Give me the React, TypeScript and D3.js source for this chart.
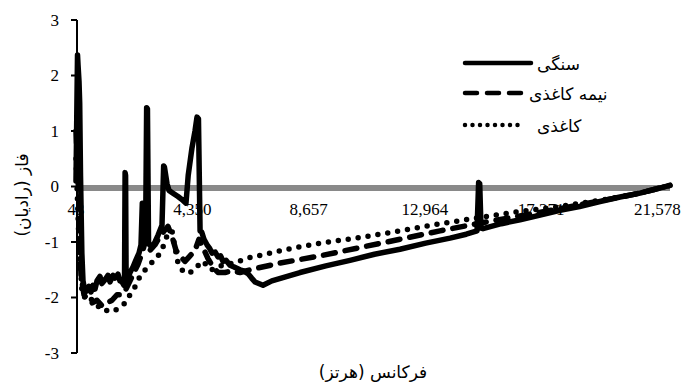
import React from 'react';
import * as d3 from 'd3';

// frequency (Hz) and phase (rad)
const stoneHz = [43, 70, 99, 117, 154, 180, 210, 260, 302, 376, 451, 520, 600, 673, 747, 821, 932, 1000, 1117, 1229, 1303, 1414, 1488, 1599, 1673, 1747, 1821, 1840, 1862, 1880, 1900, 1933, 2044, 2155, 2266, 2377, 2451, 2500, 2544, 2580, 2620, 2660, 2690, 2730, 2766, 2859, 2970, 3081, 3229, 3290, 3320, 3415, 3489, 3637, 3822, 4007, 4118, 4200, 4341, 4452, 4526, 4580, 4640, 4700, 4785, 4897, 5000, 5082, 5200, 5304, 5400, 5489, 5600, 5749, 5900, 6119, 6250, 6416, 6550, 6675, 6971, 7300, 8342, 9300, 10195, 11100, 12047, 13000, 13900, 14500, 14900, 14960, 15000, 15048, 15122, 15800, 16493, 17200, 17975, 18700, 19457, 20200, 20939, 22050];
const stonePhase = [0.1, 1.2, 2.37, 2.2, 1.9, 1.5, 0.2, -1.2, -1.7, -1.9, -1.88, -1.8, -1.9, -1.78, -1.85, -1.7, -1.62, -1.75, -1.68, -1.6, -1.72, -1.6, -1.65, -1.58, -1.7, -1.72, -1.78, -1.75, 0.25, 0.2, -1.72, -1.7, -1.55, -1.45, -1.32, -1.2, -1.05, -0.3, -0.32, -0.95, -1.0, 1.42, 1.4, -1.0, -1.05, -1.1, -1.0, -0.88, -0.7, 0.37, 0.35, 0.05, -0.07, -0.12, -0.18, -0.25, -0.3, 0.2, 0.7, 1.0, 1.25, 1.22, -0.8, -0.82, -0.95, -1.05, -1.12, -1.2, -1.18, -1.27, -1.25, -1.35, -1.33, -1.42, -1.45, -1.5, -1.52, -1.57, -1.65, -1.72, -1.78, -1.7, -1.55, -1.43, -1.33, -1.22, -1.13, -1.02, -0.93, -0.86, -0.8, 0.07, 0.05, -0.75, -0.76, -0.67, -0.6, -0.52, -0.43, -0.36, -0.27, -0.19, -0.12, 0.02];

const semiHz = [43, 117, 228, 339, 488, 636, 821, 1006, 1192, 1377, 1562, 1747, 1896, 2044, 2192, 2340, 2488, 2636, 2785, 2970, 3155, 3340, 3452, 3600, 3748, 3896, 4081, 4267, 4452, 4600, 4748, 4934, 5119, 5304, 5563, 5823, 6119, 6490, 7601, 9083, 10565, 12047, 13529, 15011, 16493, 17975, 19457, 20939, 22050];
const semiPhase = [1.0, 0.2, -1.6, -1.95, -2.05, -2.1, -2.05, -2.15, -2.1, -2.05, -1.95, -1.95, -1.85, -1.7, -1.55, -1.4, -1.2, -0.95, -1.15, -1.05, -0.9, -0.78, -0.72, -0.9, -1.15, -1.25, -1.35, -1.25, -1.15, -0.95, -1.1, -1.3, -1.45, -1.55, -1.55, -1.52, -1.55, -1.5, -1.38, -1.25, -1.1, -0.95, -0.8, -0.66, -0.53, -0.4, -0.26, -0.12, 0.02];

const paperHz = [43, 154, 265, 339, 488, 636, 784, 932, 1080, 1229, 1377, 1525, 1673, 1858, 2044, 2192, 2340, 2525, 2711, 2896, 3044, 3266, 3452, 3600, 3711, 3822, 4007, 4192, 4452, 4637, 4785, 4934, 5119, 5304, 5526, 5823, 6119, 6490, 7231, 7972, 9083, 10565, 12047, 13529, 15011, 16493, 17975, 19457, 20939, 22050];
const paperPhase = [0.5, -1.0, -1.9, -2.0, -1.95, -2.05, -2.1, -2.2, -2.2, -2.25, -2.25, -2.22, -2.18, -2.1, -1.95, -1.85, -1.68, -1.55, -1.44, -1.35, -1.29, -1.09, -0.84, -0.8, -1.1, -1.38, -1.53, -1.57, -1.5, -1.38, -1.35, -1.48, -1.5, -1.44, -1.42, -1.38, -1.34, -1.28, -1.2, -1.12, -1.02, -0.92, -0.8, -0.67, -0.56, -0.45, -0.36, -0.25, -0.12, 0.02];

const xTicks = [43, 4350, 8657, 12964, 17271, 21578];
const yTicks = [3, 2, 1, 0, -1, -2, -3];

const seriesNames = ['سنگی', 'نیمه کاغذی', 'کاغذی'];
const xTitle = 'فرکانس (هرتز)';
const yTitle = 'فاز (رادیان)';

const W = 686;
const H = 385;

export default function App() {
  const x = d3.scaleLinear().domain([43, 22050]).range([76, 670]);
  const y = d3.scaleLinear().domain([-3, 3]).range([353, 20]);

  const line = d3.line<[number, number]>()
    .x(d => x(d[0]))
    .y(d => y(d[1]));

  const toPts = (hz: number[], ph: number[]) => hz.map((h, i) => [h, ph[i]] as [number, number]);

  const series = [
    { pts: toPts(stoneHz, stonePhase), dash: undefined, legDash: undefined },
    { pts: toPts(semiHz, semiPhase), dash: '12 10', legDash: '12 10' },
    { pts: toPts(paperHz, paperPhase), dash: '0 10', legDash: '0 7.5' },
  ];

  const fmt = d3.format(',');
  const serif = "'Liberation Serif'";
  const arabic = "'DejaVu Sans'";

  const legendY = [63, 93, 125];
  const legendLen = [66, 58, 56];
  const legendTextX = [537, 529, 537];

  return (
    <svg width={W} height={H} style={{ position: 'absolute', left: 0, top: 0, background: '#fff' }}>
      {/* x tick labels sit under the data */}
      {xTicks.map(t => (
        <text key={t} x={x(t)} y={215} textAnchor="middle" fontFamily={serif} fontSize={17} fill="#000">
          {fmt(t)}
        </text>
      ))}

      {/* zero line (category axis) */}
      <line x1={x(43)} x2={x(22050)} y1={y(0) + 1.5} y2={y(0) + 1.5} stroke="#898989" strokeWidth={6} />

      {/* y axis */}
      <line x1={77} x2={77} y1={y(3)} y2={y(-3)} stroke="#000" strokeWidth={2} />
      {yTicks.map(t => (
        <g key={t}>
          <line x1={71} x2={77} y1={y(t)} y2={y(t)} stroke="#000" strokeWidth={2} />
          <text x={59} y={y(t)} dy="0.35em" textAnchor="end" fontFamily={serif} fontSize={17} fill="#000">
            {String(t)}
          </text>
        </g>
      ))}

      {series.map((s, i) => (
        <path
          key={i}
          d={line(s.pts) || ''}
          fill="none"
          stroke="#000"
          strokeWidth={5.5}
          strokeLinejoin="round"
          strokeLinecap="round"
          strokeDasharray={s.dash}
        />
      ))}

      {/* legend */}
      {seriesNames.map((n, i) => (
        <g key={n}>
          <line
            x1={465}
            x2={465 + legendLen[i]}
            y1={legendY[i]}
            y2={legendY[i]}
            stroke="#000"
            strokeWidth={4.5}
            strokeLinecap="round"
            strokeDasharray={series[i].legDash}
          />
          <text x={legendTextX[i]} y={legendY[i] + 7} fontFamily={arabic} fontSize={17} fill="#000">
            {n}
          </text>
        </g>
      ))}

      <text x={373} y={378} textAnchor="middle" fontFamily={arabic} fontSize={17} fill="#000">
        {xTitle}
      </text>
      <text
        transform={`translate(28,${195}) rotate(-90)`}
        textAnchor="middle"
        fontFamily={arabic}
        fontSize={17}
        fill="#000"
      >
        {yTitle}
      </text>
    </svg>
  );
}
